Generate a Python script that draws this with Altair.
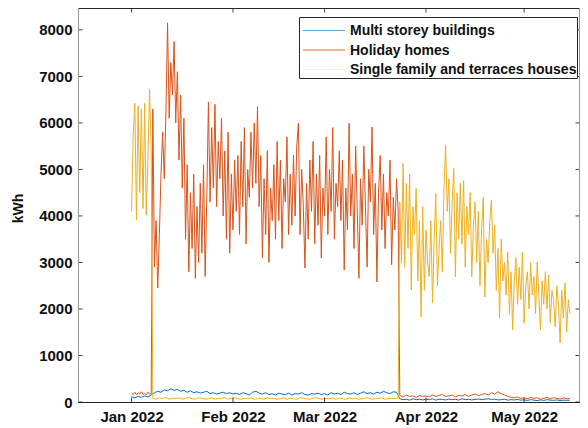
import altair as alt
import pandas as pd

FONT = "Liberation Sans"

# ---------------- data ----------------
series_names = ["Multi storey buildings", "Holiday homes", "Single family and terraces houses"]
series_colors = ["#0072BD", "#D95319", "#EDB120"]
legend_line_colors = ["#5fa5dc", "#e0703c", "#f8f0de"]

y_ticks = [0, 1000, 2000, 3000, 4000, 5000, 6000, 7000, 8000]
x_ticks = ["2022-01-01T00:00:00", "2022-02-01T00:00:00", "2022-03-01T00:00:00",
           "2022-04-01T00:00:00", "2022-05-01T00:00:00"]

# Multi storey buildings, daily from 1 Jan 2022
blue_kwh = [110, 90, 120, 100, 130, 110,
            150, 200, 230, 210, 260, 240, 285, 250,
            270, 230, 250, 210, 240, 200, 220, 190, 210, 230, 180, 200, 170, 190, 210, 180, 200,
            170, 190, 160, 200, 180, 150, 210, 230, 190, 170, 200, 160, 180, 150, 190, 170, 160, 190,
            150, 180, 170, 200, 160, 150, 180, 170, 190, 160,
            180, 150, 200, 170, 190, 160, 210, 180, 170, 200, 160, 190, 220, 180, 200, 170, 210, 190,
            230, 200, 180, 220, 210,
            70, 50, 60, 40, 70, 50, 60, 45,
            60, 50, 70, 40, 60, 55, 45, 65, 50, 60, 40, 70, 50, 60, 45, 55, 65, 50, 60, 70,
            55, 60, 45, 50, 60, 40, 50, 45, 55, 40,
            45, 35, 50, 40, 30, 45, 35, 50, 40, 35, 45, 30, 40, 35, 40]

# Holiday homes: 12-hourly 1-7 Jan (low), 12-hourly 7 Jan - 23 Mar (high), daily 24 Mar - 15 May (low)
holiday_low_jan = [190, 160, 210, 150, 200, 170, 220, 160, 190, 150, 210, 170, 180]
holiday_high = [
    6300, 2900, 3900, 2450, 3600,
    4900, 5800, 4800, 6200,
    8150, 6100, 7300, 6600, 7750, 6000, 7100,
    5200, 6600, 4600, 6100,
    3500, 5100, 2800, 4500, 3300, 4900, 2660, 4200, 3000, 4700, 3200, 5100, 2700, 4400,
    6450, 4300, 5900, 4600, 6400, 4200, 5600, 4800, 6100,
    4000, 5400, 3500, 5800, 3200, 4900, 3700, 5200, 4100,
    5300, 3600, 5600, 4200, 5900, 3400, 5000, 4400, 5800, 4600, 6000, 4700, 6350,
    4200, 5300, 3100, 4800, 3600, 5400, 3000, 4600, 3900,
    5100, 3500, 5600, 3900, 5200, 3300, 4800, 4300, 5700, 3600, 4900,
    3800, 5300, 4000, 5500, 5990, 3600, 5000, 4200, 2880, 4700, 3500, 5200,
    4100, 5600, 3400, 4900, 3800, 5300, 3100, 4600, 4000, 5700,
    3600, 5000, 4100, 5900, 3500, 4700, 4200, 5400, 3900,
    5200, 2840, 4600, 3700, 5990, 4000, 4900, 3300, 5500, 4100, 2660, 4800,
    3800, 5500, 4200, 2900, 5000, 4300, 5910, 3600, 4700, 2580, 4500, 5300, 3700,
    4900, 3300, 4500, 4000, 5200, 2950, 4400, 3700, 4800, 4100,
]
holiday_low_spring = [140, 110, 150, 120, 130, 100, 140, 120,
                      130, 110, 150, 120, 140, 160, 120, 130, 150, 110, 140, 130, 160, 120, 150,
                      170, 140, 160, 180, 150, 200, 170, 220, 180, 150, 120, 100, 90, 110, 80,
                      90, 70, 100, 80, 90, 60, 80, 100, 70, 90, 80, 60, 90, 70, 80]

# Single family and terraces houses: 12-hourly 1-7 Jan (high), daily 7 Jan - 23 Mar (low),
# 12-hourly 24 Mar - 15 May (high)
single_high_jan = [4100, 5740, 6420, 3910, 6360, 4500, 6300, 4160, 6420, 4020, 5200, 6720, 5450]
single_low_winter = [80, 60, 90, 70, 100, 60, 80, 70, 90, 60,
                     80, 100, 70, 60, 90, 80, 60, 70, 90, 60,
                     80, 70, 100, 60, 80, 90, 70, 60, 80, 70,
                     90, 60, 70, 80, 60, 90, 70, 80, 60, 70,
                     90, 60, 80, 70, 60, 90, 80, 70, 60, 80,
                     90, 70, 60, 80, 70, 90, 60, 80, 70, 60,
                     90, 70, 80, 60, 70, 90, 80, 60, 70, 80,
                     90, 60, 70, 80, 70, 90]
single_high_spring = [
    4300, 3000, 5130, 2900, 4700, 3300, 4900, 2410, 4200, 3600,
    4590, 2600, 3900, 1830, 4200, 2400, 3700, 3000,
    2700, 3900, 2130, 3500, 4480, 2500, 3300, 3900, 2800,
    4600, 5520, 4100,
    4800, 3200, 4300, 5020, 2690, 4500, 3500, 4700,
    3400, 4760, 2900, 4200, 3600, 4500, 2690, 3800, 4300,
    3000, 4100, 2500, 3700, 4400, 2260, 3500, 3000, 3900,
    4340, 3200,
    3800, 2400, 3300, 1800, 3500, 2600, 3000,
    2300, 3220, 1900, 2800, 1550, 2600, 3100, 2100,
    2900, 2200, 3220, 1700, 2500, 2800, 2000, 3000, 2300,
    2700, 1900, 3010, 2300, 1550, 2600, 2100, 2800,
    2000, 2730, 1700, 2400, 2200, 1610, 2500,
    2100, 1270, 2400, 1800, 2560, 1500, 2200, 1900,
]

# ---------------- table ----------------
start = pd.Timestamp("2022-01-01 00:00")


def seg(name, values, offset_h, step_h):
    return pd.DataFrame({
        "series": name,
        "t": [start + pd.Timedelta(hours=offset_h + i * step_h) for i in range(len(values))],
        "v": values,
    })


df = pd.concat([
    seg(series_names[0], blue_kwh, 0, 24),
    seg(series_names[1], holiday_low_jan, 0, 12),
    seg(series_names[1], holiday_high, 156, 12),
    seg(series_names[1], holiday_low_spring, 1968, 24),
    seg(series_names[2], single_high_jan, 0, 12),
    seg(series_names[2], single_low_winter, 156, 24),
    seg(series_names[2], single_high_spring, 1968, 12),
], ignore_index=True)

# ---------------- chart ----------------
W, H = 502, 394


def dt(s):
    ts = pd.Timestamp(s)
    return alt.DateTime(year=ts.year, month=ts.month, date=ts.day, hours=ts.hour)


xscale = alt.Scale(domain=[dt("2021-12-15T15:00:00"), dt("2022-05-18T02:00:00")], nice=False)
yscale = alt.Scale(domain=[0, 8470], nice=False, zero=False)

x_axis = alt.Axis(values=[dt(s) for s in x_ticks], format="%b %Y", labelFont=FONT,
                  labelFontSize=15, labelFontWeight="bold", labelColor="#111111",
                  ticks=False, tickSize=0, domain=False, grid=False, labelPadding=7,
                  title=None, labelFlush=False, labelOverlap=False)
y_axis = alt.Axis(values=y_ticks, format="d", labelFont=FONT, labelFontSize=15,
                  labelFontWeight="bold", labelColor="#111111", ticks=False, tickSize=0,
                  domain=False, grid=False, labelPadding=6, title="kWh", titleFont=FONT,
                  titleFontSize=14, titleFontWeight="bold", titleColor="#111111",
                  titleAngle=270, titleX=-56, titleY=200, titleBaseline="alphabetic",
                  titleAlign="center")

ex = alt.X("t:T", scale=xscale, axis=x_axis, title=None)
ey = alt.Y("v:Q", scale=yscale, axis=y_axis, title="kWh")


def line_layer(name, color):
    return alt.Chart(df).transform_filter(alt.datum.series == name).mark_line(
        color=color, strokeWidth=1, clip=True
    ).encode(x=ex, y=ey)


lines = [line_layer(n, c) for n, c in zip(series_names, series_colors)]

ytick_df = pd.DataFrame({"v": y_ticks})
xtick_df = pd.DataFrame({"t": [pd.Timestamp(s) for s in x_ticks]})
tick_color = "#404040"
ticks = [
    alt.Chart(ytick_df).mark_rule(color=tick_color, strokeWidth=1).encode(
        x=alt.value(0), x2=alt.value(4.5), y=ey),
    alt.Chart(ytick_df).mark_rule(color=tick_color, strokeWidth=1).encode(
        x=alt.value(W - 4.5), x2=alt.value(W), y=ey),
    alt.Chart(xtick_df).mark_rule(color=tick_color, strokeWidth=1).encode(
        x=ex, y=alt.value(H - 4.5), y2=alt.value(H)),
    alt.Chart(xtick_df).mark_rule(color=tick_color, strokeWidth=1).encode(
        x=ex, y=alt.value(0), y2=alt.value(4.5)),
]

one = pd.DataFrame({"k": [0]})
frame = [
    alt.Chart(one).mark_rule(color="#262626", strokeWidth=1).encode(
        x=alt.value(0), x2=alt.value(W), y=alt.value(0.5)),
    alt.Chart(one).mark_rule(color="#262626", strokeWidth=1).encode(
        x=alt.value(0), x2=alt.value(W), y=alt.value(H + 0.5)),
    alt.Chart(one).mark_rule(color="#9a9a9a", strokeWidth=1).encode(
        x=alt.value(0.5), y=alt.value(0), y2=alt.value(H)),
    alt.Chart(one).mark_rule(color="#9a9a9a", strokeWidth=1).encode(
        x=alt.value(W - 0.5), y=alt.value(0), y2=alt.value(H)),
]

legend = [alt.Chart(one).mark_rect(fill="white", stroke="#262626", strokeWidth=1).encode(
    x=alt.value(221.5), x2=alt.value(499.5), y=alt.value(9.5), y2=alt.value(70.5))]
row_y = [22.5, 42, 61.5]
for i, name in enumerate(series_names):
    d = pd.DataFrame({"label": [name]})
    legend.append(alt.Chart(d).mark_rule(color=legend_line_colors[i], strokeWidth=1.2).encode(
        x=alt.value(225), x2=alt.value(267), y=alt.value(row_y[i])))
    legend.append(alt.Chart(d).mark_text(align="left", baseline="middle", font=FONT,
                                         fontSize=14, fontWeight="bold", color="#111111").encode(
        x=alt.value(272), y=alt.value(row_y[i] + 0.5), text="label:N"))

chart = alt.layer(*lines, *ticks, *frame, *legend).properties(
    width=W, height=H,
    autosize=alt.AutoSizeParams(type="none"),
    padding={"left": 70, "top": 0, "right": 0, "bottom": 24},
    background="white",
).configure_view(stroke=None)

chart.save("out.html", embed_options={"renderer": "svg", "actions": False})
